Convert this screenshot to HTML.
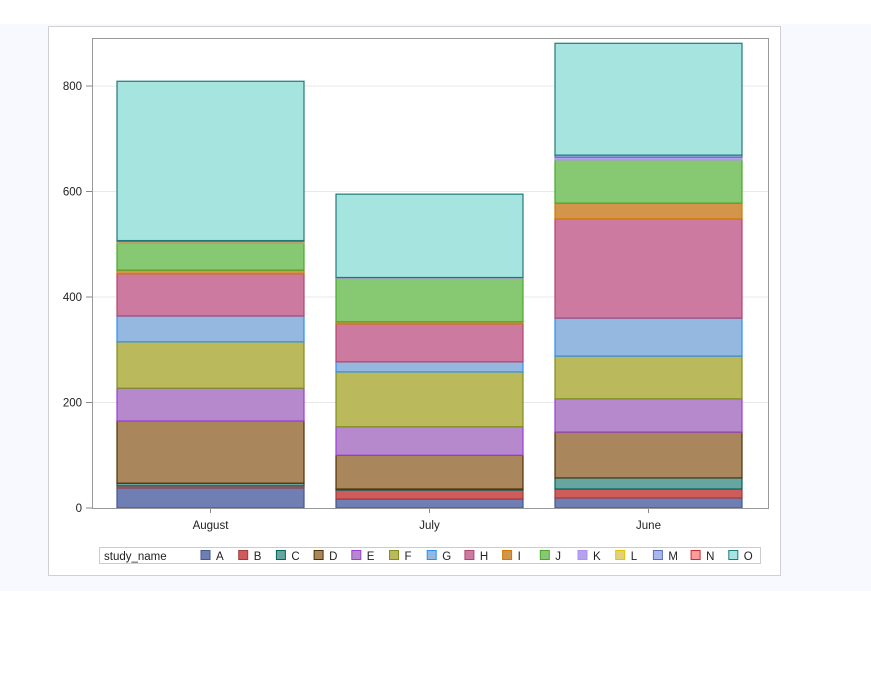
<!DOCTYPE html>
<html><head><meta charset="utf-8"><style>
body{margin:0;width:871px;height:673px;background:#fff;font-family:"Liberation Sans",sans-serif;overflow:hidden}
#bg{position:absolute;left:0;top:24px;width:871px;height:567px;background:#f8f9fe}
#panel{position:absolute;left:48px;top:26px;width:731px;height:548px;background:#fff;border:1px solid #d0d0d0}
svg{position:absolute;left:0;top:0}
</style></head><body>
<div id="bg"></div>
<div id="panel"></div>
<svg id="chart" width="871" height="673"></svg>
<script>
const categories=["August","July","June"];
const seriesNames=["A","B","C","D","E","F","G","H","I","J","K","L","M","N","O"];
const sAug=[38,4,5,118,62,88,49,80,7,51,2,1,2,0,302];
const sJul=[17,17,2,64,54,104,19,72,4,83,1,0,0,0,158];
const sJun=[19,17,21,87,63,81,72,188,30,82,5,0,4,0,212];
const yTicks=[0,200,400,600,800];
const fills=["#6f7eb3","#d05b5b","#66a5a0","#a9865b","#b689cd","#bab95b","#94b8e0","#cc7a9f","#d29549","#87c873","#b1a3ef","#dfd27a","#aab7ee","#ff9b9b","#a6e4df"];
const strokes=["#445694","#a23a3a","#01665e","#543005","#9d3cdb","#7f8e1f","#2a8ff7","#b3446c","#d17800","#47a82a","#b38ef3","#e6c300","#5c6eb5","#c53030","#207a7a"];
const data=[sAug,sJul,sJun];
const NS="http://www.w3.org/2000/svg";
const svg=document.getElementById('chart');
const px=92,py=38,pw=676,ph=470,ymax=891;
const y=v=>py+ph-v*ph/ymax;
const x=i=>117+219*i;
function mk(t,a){const e=document.createElementNS(NS,t);for(const k in a)e.setAttribute(k,a[k]);svg.appendChild(e);return e;}
yTicks.forEach(t=>{
 if(t>0){const g=mk('line',{x1:px,x2:px+pw,y1:y(t),y2:y(t),stroke:'#e8e8e8'});
 
 }
 const tk=mk('line',{x1:px-6,x2:px,y1:y(t),y2:y(t),stroke:'#888'});
 
 
 const l=mk('text',{x:px-10,y:y(t)+4,'text-anchor':'end','font-size':11.5,fill:'#222'});l.textContent=t;
 
 
});
data.forEach((s,ci)=>{
 let cum=0;
 s.forEach((v,si)=>{
  if(v>0){const r=mk('rect',{x:x(ci),y:y(cum+v),width:187,height:v*ph/ymax,fill:fills[si],stroke:strokes[si],'stroke-width':1.2});
  
  }
  cum+=v;
 });
 const tk=mk('line',{x1:x(ci)+93.5,x2:x(ci)+93.5,y1:py+ph,y2:py+ph+5,stroke:'#888'});
 
 
 const l=mk('text',{x:x(ci)+93.5,y:py+ph+21,'text-anchor':'middle','font-size':11.5,fill:'#222'});l.textContent=categories[ci];
 
 
});
const fr=mk('rect',{x:px+0.5,y:py+0.5,width:pw,height:ph,fill:'none',stroke:'#999'});


const lb=mk('rect',{x:99.5,y:547.5,width:661,height:16,fill:'#fff',stroke:'#ccc'});


const lt=mk('text',{x:104,y:560,'font-size':11.5,fill:'#222'});lt.textContent='study_name';


seriesNames.forEach((n,i)=>{
 const sx=201+i*37.7;
 const r=mk('rect',{x:sx,y:550.5,width:9,height:9,fill:fills[i],stroke:strokes[i]});
 
 
 const t=mk('text',{x:sx+15,y:560,'font-size':11.5,fill:'#222'});t.textContent=n;
 
 
});
</script>
</body></html>
